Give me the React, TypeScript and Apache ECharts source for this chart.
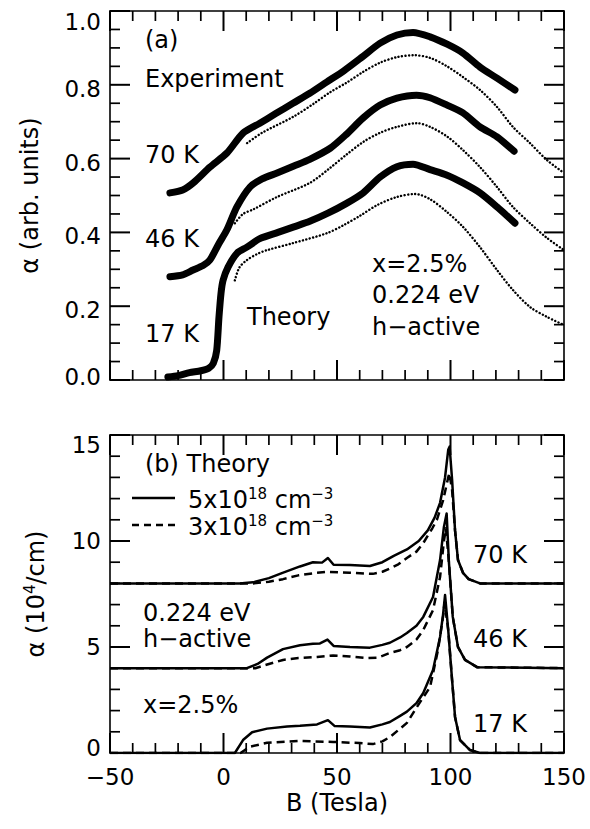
import React, { useEffect, useRef } from 'react';
import * as echarts from 'echarts';

const FONT = 'DejaVu Sans';

// ---------- Panel (a): experiment (solid, noisy) and theory (dotted) ----------
const exp17K: number[][] = [[-24.5, 0.008], [-20, 0.012], [-15, 0.02], [-10, 0.025], [-6.5, 0.032], [-4.5, 0.045], [-3, 0.08], [-2, 0.17], [-1.1, 0.235], [-0.2, 0.27], [2, 0.306], [6, 0.344], [10.3, 0.36], [16, 0.383], [24, 0.4], [31, 0.415], [38, 0.43], [46, 0.452], [54, 0.478], [61.5, 0.507], [69, 0.55], [76.4, 0.578], [83.5, 0.585], [91, 0.57], [98.5, 0.555], [105.5, 0.534], [113, 0.507], [120.5, 0.469], [128.4, 0.425]];
const exp46K: number[][] = [[-23.6, 0.28], [-18, 0.285], [-13.4, 0.298], [-9, 0.31], [-6, 0.325], [-2, 0.37], [1.5, 0.407], [5.9, 0.469], [11.7, 0.523], [17, 0.545], [23.6, 0.561], [31, 0.58], [38, 0.598], [47, 0.628], [54, 0.665], [61.5, 0.71], [69, 0.745], [76.4, 0.764], [85, 0.772], [91, 0.765], [98.5, 0.745], [105.5, 0.724], [113, 0.686], [120.5, 0.659], [128, 0.62]];
const exp70K: number[][] = [[-23.6, 0.507], [-18, 0.515], [-13.4, 0.534], [-6, 0.577], [1.5, 0.615], [8.6, 0.669], [16, 0.696], [23, 0.722], [30.6, 0.75], [38, 0.777], [45.6, 0.808], [53, 0.838], [61, 0.875], [69, 0.913], [76.4, 0.935], [83.5, 0.942], [91, 0.93], [98.5, 0.91], [105.5, 0.886], [113, 0.848], [120.5, 0.818], [128.4, 0.786]];
const theory17K: number[][] = [[5, 0.27], [7, 0.305], [10.3, 0.325], [15, 0.342], [19.2, 0.352], [30.6, 0.371], [45.6, 0.398], [53, 0.42], [60.1, 0.445], [68, 0.475], [76.4, 0.496], [84.4, 0.504], [91, 0.49], [98.5, 0.455], [105.5, 0.415], [113, 0.36], [120.5, 0.298], [127.5, 0.244], [135, 0.198], [142.5, 0.171], [150, 0.149]];
const theory46K: number[][] = [[5, 0.425], [8.6, 0.45], [13, 0.462], [23.6, 0.496], [38, 0.534], [47, 0.575], [54, 0.61], [61.5, 0.645], [69, 0.67], [76.4, 0.686], [85.2, 0.696], [91, 0.686], [98.5, 0.66], [105.5, 0.623], [113, 0.577], [120.5, 0.523], [127.5, 0.469], [135, 0.425], [142.5, 0.385], [150, 0.352]];
const theory70K: number[][] = [[10.4, 0.642], [17, 0.67], [30.6, 0.713], [40, 0.75], [47, 0.78], [54, 0.805], [61.5, 0.835], [69, 0.86], [76.4, 0.875], [84, 0.88], [91, 0.873], [98.5, 0.85], [105.5, 0.821], [113, 0.786], [120.5, 0.74], [127.5, 0.686], [135, 0.642], [142.5, 0.596], [150, 0.561]];

// ---------- Panel (b): theory, 5e18 (solid) and 3e18 (dashed) ----------
const solid70K: number[][] = [[-50, 8], [7, 8], [13, 8.05], [20, 8.25], [26, 8.5], [33.7, 8.8], [39.4, 9.0], [43.4, 8.98], [46, 9.2], [48.5, 8.88], [55.7, 8.87], [64.5, 8.82], [70, 9.0], [75, 9.3], [80.8, 9.6], [86, 10.0], [90, 10.5], [93, 11.1], [95.4, 11.8], [97.6, 13.0], [99, 14.3], [99.6, 14.45], [100.7, 12.9], [102, 10.5], [103.3, 9.1], [105.5, 8.5], [108, 8.2], [113, 8.0], [150, 8]];
const dashed70K: number[][] = [[-50, 8], [13, 8], [20, 8.08], [26.2, 8.2], [33, 8.38], [41.2, 8.5], [45.6, 8.55], [55.7, 8.5], [65.8, 8.45], [70, 8.55], [73.3, 8.7], [77, 8.9], [80.8, 9.2], [85, 9.5], [88, 9.9], [92, 10.6], [94, 11.0], [96.7, 11.9], [99, 13.0], [99.5, 13.2], [100.7, 12.4], [102, 10.5], [103.3, 9.1], [105.5, 8.5], [108, 8.2], [113, 8.0], [150, 8]];
const solid46K: number[][] = [[-50, 4], [10.3, 4], [15, 4.2], [19.2, 4.5], [26.2, 4.9], [33.7, 5.08], [39.4, 5.15], [42.5, 5.17], [45.8, 5.35], [48.5, 5.05], [55.7, 5.0], [64.5, 4.97], [70, 5.1], [73.3, 5.2], [77.8, 5.45], [80.8, 5.66], [85, 6.0], [88, 6.42], [92.3, 7.36], [95.4, 9.1], [97.1, 10.66], [98.3, 11.3], [99.3, 9.0], [101, 6.42], [103.3, 5.0], [106.4, 4.39], [111.7, 4.05], [150, 4]];
const dashed46K: number[][] = [[-50, 4], [14, 4], [20, 4.2], [26.2, 4.39], [33, 4.48], [41.2, 4.53], [48.3, 4.6], [55.7, 4.55], [63.2, 4.48], [68, 4.5], [73.3, 4.72], [77.8, 4.85], [80.8, 5.0], [85, 5.35], [88, 5.8], [92.3, 6.74], [95.4, 8.3], [97.1, 10.0], [98, 10.6], [99.3, 9.0], [101, 6.42], [103.3, 5.0], [106.4, 4.39], [111.7, 4.05], [150, 4]];
const solid17K: number[][] = [[-50, 0], [5, 0], [8.6, 0.61], [12.6, 0.98], [19.2, 1.15], [28, 1.25], [33.7, 1.28], [41.2, 1.35], [46, 1.55], [49, 1.27], [55.7, 1.25], [64.5, 1.2], [70, 1.35], [73.3, 1.46], [77.8, 1.75], [80.8, 1.95], [85, 2.35], [88, 2.83], [92.3, 3.92], [95.4, 5.47], [96.7, 6.5], [97.6, 7.45], [99, 5.8], [100.7, 3.44], [102, 1.7], [104.2, 0.61], [108.6, 0.14], [113, 0], [150, 0]];
const dashed17K: number[][] = [[-50, 0], [7.5, 0], [11.7, 0.3], [19.2, 0.48], [33.7, 0.57], [48.3, 0.52], [60, 0.47], [65.8, 0.42], [70, 0.55], [73.3, 0.75], [77.8, 1.15], [80.8, 1.42], [85.2, 2.17], [91, 3.11], [94.5, 4.86], [96.7, 6.42], [97.4, 7.1], [99, 5.8], [100.7, 3.44], [102, 1.7], [104.2, 0.61], [108.6, 0.14], [113, 0], [150, 0]];

// ---------- tick positions ----------
const xMajorTicks = [-50, 0, 50, 100, 150];
const xMinorTicks = [-40, -30, -20, -10, 10, 20, 30, 40, 60, 70, 80, 90, 110, 120, 130, 140];
const yMajorTicksA = [0, 0.2, 0.4, 0.6, 0.8, 1.0];
const yMinorTicksA = [0.05, 0.1, 0.15, 0.25, 0.3, 0.35, 0.45, 0.5, 0.55, 0.65, 0.7, 0.75, 0.85, 0.9, 0.95];
const yMajorTicksB = [0, 5, 10, 15];
const yMinorTicksB = [1, 2, 3, 4, 6, 7, 8, 9, 11, 12, 13, 14];

const xRange = { min: -50, max: 150, interval: 50 };
const yRangeA = { min: 0, max: 1, interval: 0.2 };
const yRangeB = { min: 0, max: 15, interval: 5 };

const BLACK = '#000';
const TICK_FONT = 23;
const TEXT_FONT = 24;
const MAJOR_LEN = 20;
const MINOR_LEN = 10;

function axisCommon(r: { min: number; max: number; interval: number }, extra: any) {
  return {
    type: 'value',
    min: r.min,
    max: r.max,
    interval: r.interval,
    axisLine: { show: true, onZero: false, lineStyle: { color: BLACK, width: 1.6 } },
    axisTick: { show: false },
    minorTick: { show: false },
    splitLine: { show: false },
    ...extra,
  };
}

const labelRichA = {
  n: { fontSize: TICK_FONT, fontFamily: FONT, color: BLACK, padding: [8, 0, 0, 0] },
  t: { fontSize: TICK_FONT, fontFamily: FONT, color: BLACK, padding: [22, 0, 0, 0] },
  b: { fontSize: TICK_FONT, fontFamily: FONT, color: BLACK, padding: [0, 0, 6, 0] },
};
const labelRichB = {
  n: { fontSize: TICK_FONT, fontFamily: FONT, color: BLACK },
  t: { fontSize: TICK_FONT, fontFamily: FONT, color: BLACK, padding: [20, 0, 0, 0] },
  b: { fontSize: TICK_FONT, fontFamily: FONT, color: BLACK, padding: [0, 0, 10, 0] },
};

const option: any = {
  animation: false,
  backgroundColor: '#fff',
  grid: [
    { left: 110, top: 11, width: 454, height: 369 },
    { left: 110, top: 435, width: 454, height: 318 },
  ],
  xAxis: [
    axisCommon(xRange, { gridIndex: 0, position: 'bottom', axisLabel: { show: false } }),
    axisCommon(xRange, { gridIndex: 0, position: 'top', axisLabel: { show: false } }),
    axisCommon(xRange, {
      gridIndex: 1, position: 'bottom',
      axisLabel: {
        show: true, margin: 12, fontSize: TICK_FONT, fontFamily: FONT, color: BLACK,
        formatter: (v: number) => (v < 0 ? '\u2212' + Math.abs(v) : String(v)),
      },
      name: 'B (Tesla)', nameLocation: 'middle', nameGap: 38,
      nameTextStyle: { fontSize: TEXT_FONT, fontFamily: FONT, color: BLACK },
    }),
    axisCommon(xRange, { gridIndex: 1, position: 'top', axisLabel: { show: false } }),
  ],
  yAxis: [
    axisCommon(yRangeA, {
      gridIndex: 0, position: 'left',
      axisLabel: {
        show: true, margin: 9,
        formatter: (v: number) => (v === 1 ? '{t|1.0}' : v === 0 ? '{b|0.0}' : '{n|' + v.toFixed(1) + '}'),
        rich: labelRichA,
      },
      name: '\u03b1 (arb. units)', nameLocation: 'middle', nameGap: 68, nameRotate: 90,
      nameTextStyle: { fontSize: TEXT_FONT, fontFamily: FONT, color: BLACK },
    }),
    axisCommon(yRangeA, { gridIndex: 0, position: 'right', axisLabel: { show: false } }),
    axisCommon(yRangeB, {
      gridIndex: 1, position: 'left',
      axisLabel: {
        show: true, margin: 9,
        formatter: (v: number) => (v === 15 ? '{t|15}' : v === 0 ? '{b|0}' : '{n|' + v + '}'),
        rich: labelRichB,
      },
      name: '{n|\u03b1 (10}{s|4}{n|/cm)}', nameLocation: 'middle', nameGap: 60, nameRotate: 90,
      nameTextStyle: {
        fontSize: TEXT_FONT, fontFamily: FONT, color: BLACK,
        rich: {
          n: { fontSize: TEXT_FONT, fontFamily: FONT, color: BLACK, lineHeight: 28 },
          s: { fontSize: 15, fontFamily: FONT, color: BLACK, lineHeight: 28, verticalAlign: 'top' },
        },
      },
    }),
    axisCommon(yRangeB, { gridIndex: 1, position: 'right', axisLabel: { show: false } }),
  ],
  series: [] as any[],
  graphic: [] as any[],
};

function line(name: string, data: number[][], xi: number, yi: number, width: number, type: any, smooth: number, cap = 'round') {
  return {
    name, type: 'line', data, xAxisIndex: xi, yAxisIndex: yi,
    showSymbol: false, symbol: 'none', smooth, clip: true,
    lineStyle: { color: BLACK, width, type, cap, join: 'round' },
    silent: true,
  };
}

// Inward ticks on all four sides, placed with the axes' own scales (api.coord).
function tickStyle(len: number) {
  return { stroke: BLACK, lineWidth: len === MAJOR_LEN ? 2 : 1.7 };
}
function xTicks(xi: number, yi: number, yMin: number) {
  const data = [
    ...xMajorTicks.map((v) => [v, yMin, MAJOR_LEN]),
    ...xMinorTicks.map((v) => [v, yMin, MINOR_LEN]),
  ];
  return {
    type: 'custom', xAxisIndex: xi, yAxisIndex: yi, silent: true, clip: false, z: 5,
    encode: { x: 0, y: 1 }, data,
    renderItem: (params: any, api: any) => {
      const cs = params.coordSys;
      const px = api.coord([api.value(0), api.value(1)])[0];
      const len = api.value(2);
      const bottom = cs.y + cs.height;
      return {
        type: 'group',
        children: [
          { type: 'line', shape: { x1: px, y1: bottom, x2: px, y2: bottom - len }, style: tickStyle(len) },
          { type: 'line', shape: { x1: px, y1: cs.y, x2: px, y2: cs.y + len }, style: tickStyle(len) },
        ],
      };
    },
  };
}
function yTicks(xi: number, yi: number, xMin: number, major: number[], minor: number[]) {
  const data = [
    ...major.map((v) => [xMin, v, MAJOR_LEN]),
    ...minor.map((v) => [xMin, v, MINOR_LEN]),
  ];
  return {
    type: 'custom', xAxisIndex: xi, yAxisIndex: yi, silent: true, clip: false, z: 5,
    encode: { x: 0, y: 1 }, data,
    renderItem: (params: any, api: any) => {
      const cs = params.coordSys;
      const py = api.coord([api.value(0), api.value(1)])[1];
      const len = api.value(2);
      const right = cs.x + cs.width;
      return {
        type: 'group',
        children: [
          { type: 'line', shape: { x1: cs.x, y1: py, x2: cs.x + len, y2: py }, style: tickStyle(len) },
          { type: 'line', shape: { x1: right, y1: py, x2: right - len, y2: py }, style: tickStyle(len) },
        ],
      };
    },
  };
}

const DOT = [0.1, 3.4];
const DASH = [8, 5];
option.series.push(
  line('Theory 17 K', theory17K, 0, 0, 2.4, DOT, 0.3),
  line('Theory 46 K', theory46K, 0, 0, 2.4, DOT, 0.3),
  line('Theory 70 K', theory70K, 0, 0, 2.4, DOT, 0.3),
  line('Experiment 17 K', exp17K, 0, 0, 7, 'solid', 0.25),
  line('Experiment 46 K', exp46K, 0, 0, 7, 'solid', 0.25),
  line('Experiment 70 K', exp70K, 0, 0, 7, 'solid', 0.25),
  line('5e18 17 K', solid17K, 2, 2, 2.5, 'solid', 0, 'butt'),
  line('3e18 17 K', dashed17K, 2, 2, 2.5, DASH, 0, 'butt'),
  line('5e18 46 K', solid46K, 2, 2, 2.5, 'solid', 0, 'butt'),
  line('3e18 46 K', dashed46K, 2, 2, 2.5, DASH, 0, 'butt'),
  line('5e18 70 K', solid70K, 2, 2, 2.5, 'solid', 0, 'butt'),
  line('3e18 70 K', dashed70K, 2, 2, 2.5, DASH, 0, 'butt'),
  xTicks(0, 0, yRangeA.min),
  yTicks(0, 0, xRange.min, yMajorTicksA, yMinorTicksA),
  xTicks(2, 2, yRangeB.min),
  yTicks(2, 2, xRange.min, yMajorTicksB, yMinorTicksB),
);

function txt(text: string, x: number, y: number, extra: any = {}) {
  return {
    type: 'text', x, y, silent: true,
    style: {
      text, fontSize: TEXT_FONT, fontFamily: FONT, fill: BLACK,
      align: 'left', verticalAlign: 'middle', textAlign: 'left', textVerticalAlign: 'middle',
      ...extra,
    },
  };
}

const supRich = {
  n: { fontSize: TEXT_FONT, fontFamily: FONT, fill: BLACK, color: BLACK, lineHeight: 28 },
  s: { fontSize: 15, fontFamily: FONT, fill: BLACK, color: BLACK, lineHeight: 28, verticalAlign: 'top' },
};

option.graphic.push(
  txt('(a)', 145, 40),
  txt('Experiment', 145, 79),
  txt('70 K', 145, 155),
  txt('46 K', 145, 239),
  txt('17 K', 145, 334),
  txt('Theory', 247, 317),
  txt('x=2.5%', 372, 264),
  txt('0.224 eV', 372, 295),
  txt('h\u2212active', 372, 327),
  txt('(b) Theory', 145, 464),
  { type: 'line', silent: true, shape: { x1: 132, y1: 498, x2: 175, y2: 498 }, style: { stroke: BLACK, lineWidth: 2.5 } },
  { type: 'line', silent: true, shape: { x1: 132, y1: 525, x2: 175, y2: 525 }, style: { stroke: BLACK, lineWidth: 2.5, lineDash: [7, 5] } },
  txt('{n|5x10}{s|18}{n| cm}{s|\u22123}', 188, 500, { rich: supRich }),
  txt('{n|3x10}{s|18}{n| cm}{s|\u22123}', 188, 527, { rich: supRich }),
  txt('0.224 eV', 143, 613),
  txt('h\u2212active', 143, 639),
  txt('x=2.5%', 143, 705),
  txt('70 K', 473, 555),
  txt('46 K', 473, 639),
  txt('17 K', 473, 724),
);

export default function App() {
  const ref = useRef<HTMLDivElement>(null);
  useEffect(() => {
    if (!ref.current) return;
    const chart = echarts.init(ref.current, null, { renderer: 'svg' });
    chart.setOption(option);
    return () => chart.dispose();
  }, []);
  return (
    <div
      ref={ref}
      style={{ position: 'fixed', left: 0, top: 0, width: 590, height: 829, background: '#fff' }}
    />
  );
}
